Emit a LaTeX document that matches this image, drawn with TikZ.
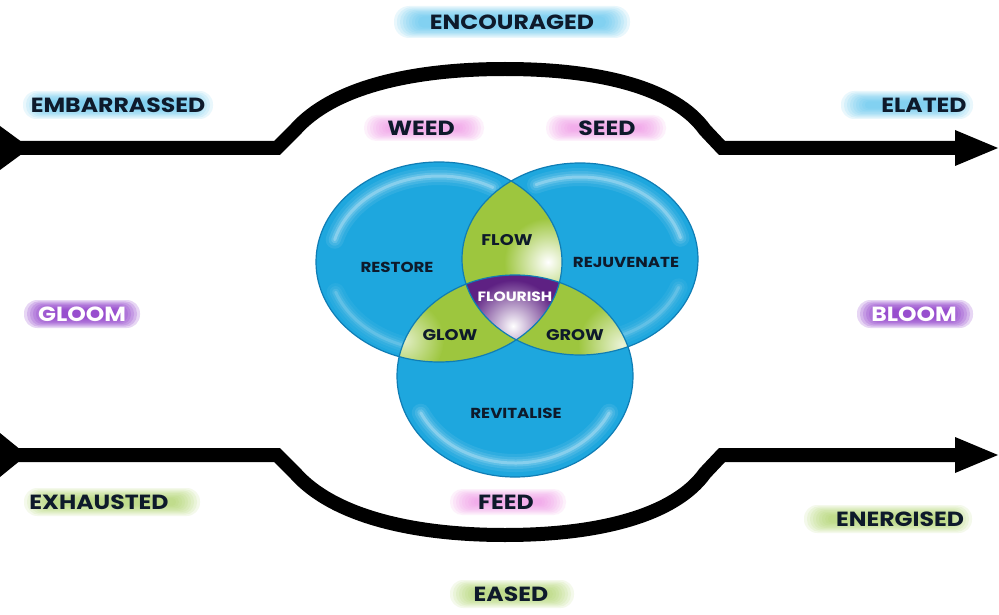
\documentclass[tikz,border=0pt]{standalone}
\usepackage{fontspec}
\setmainfont{Poppins}[FakeStretch=1.15]
\definecolor{vblue}{HTML}{1EA7DE}
\definecolor{vblueD}{HTML}{0F7DB5}
\definecolor{vgreen}{HTML}{9DC63E}
\definecolor{vpurple}{HTML}{5E2183}
\definecolor{ink}{HTML}{0E1A2B}
\definecolor{gblue}{HTML}{4EC0EE}
\definecolor{gpink}{HTML}{F08DE6}
\definecolor{gpurple}{HTML}{8A35C9}
\definecolor{ggreen}{HTML}{A8D05C}
\newcommand\glowat[6]{%
  \foreach \k in {0,...,8}{%
    \pgfmathsetmacro\gx{#3-\k*3}%
    \pgfmathsetmacro\gy{#4-\k*1.3}%
    \pgfmathsetmacro\gr{0.95*\gy}%
    \fill[#5,opacity=#6,rounded corners=\gr pt] ({#1-\gx},{#2-\gy}) rectangle ({#1+\gx},{#2+\gy});
  }}
\tikzset{
  lbl/.style={font=\bfseries\fontsize{20.5}{20.5}\selectfont,text=ink,inner sep=0pt},
  wlbl/.style={lbl,text=white},
  vlbl/.style={font=\bfseries\fontsize{14.5}{14.5}\selectfont,text=ink,inner sep=0pt},
  vlblb/.style={font=\bfseries\fontsize{15.5}{15.5}\selectfont,text=ink,inner sep=0pt},
  flow/.style={line width=14pt,black},
  hl/.style={white,line cap=round}
}
\begin{document}
\begin{tikzpicture}[x=1pt,y=-1pt]
\fill[white] (0,0) rectangle (999,615);
\useasboundingbox (0,0) rectangle (999,615);

% ---- flow lines ----
\draw[flow] (0,148) -- (277,148) -- (295,130) .. controls (332,88) and (410,69) .. (505,69)
  .. controls (600,69) and (675,88) .. (705,130) -- (722,148) -- (958,148);
\draw[flow] (0,455) -- (277,455) -- (295,473) .. controls (332,515) and (410,535) .. (505,535)
  .. controls (600,535) and (675,515) .. (705,473) -- (722,455) -- (958,455);
\fill (0,126) -- (30,148) -- (0,170) -- cycle;
\fill (0,433) -- (27,455) -- (0,477) -- cycle;
\fill (955,130) -- (998,148) -- (955,166) -- cycle;
\fill (955,437) -- (998,455) -- (955,473) -- cycle;

% ---- venn: blue discs ----
\fill[vblue] (439,262) ellipse [x radius=123, y radius=100];
\fill[vblue] (580,259) ellipse [x radius=118, y radius=96];
\fill[vblue] (515,376) ellipse [x radius=118, y radius=101];
% glossy rims
\foreach \w/\o in {18/0.08,12/0.10,7/0.15,3/0.25}{
  \draw[hl,line width=\w pt,opacity=\o] ([shift={(195:108 and 86)}]439,262) arc[start angle=195,end angle=300,x radius=108,y radius=86];
  \draw[hl,line width=\w pt,opacity=\o] ([shift={(245:104 and 82)}]580,259) arc[start angle=245,end angle=345,x radius=104,y radius=82];
  \draw[hl,line width=\w pt,opacity=\o] ([shift={(25:104 and 87)}]515,376) arc[start angle=25,end angle=155,x radius=104,y radius=87];
  \draw[hl,line width=\w pt,opacity=0.6*\o] ([shift={(110:110 and 88)}]439,262) arc[start angle=110,end angle=160,x radius=110,y radius=88];
  \draw[hl,line width=\w pt,opacity=0.6*\o] ([shift={(20:105 and 83)}]580,259) arc[start angle=20,end angle=70,x radius=105,y radius=83];
}
% green lenses
\begin{scope}
  \clip (439,262) ellipse [x radius=123, y radius=100];
  \fill[vgreen] (580,259) ellipse [x radius=118, y radius=96];
\end{scope}
\begin{scope}
  \clip (439,262) ellipse [x radius=123, y radius=100];
  \fill[vgreen] (515,376) ellipse [x radius=118, y radius=101];
\end{scope}
\begin{scope}
  \clip (580,259) ellipse [x radius=118, y radius=96];
  \fill[vgreen] (515,376) ellipse [x radius=118, y radius=101];
\end{scope}
% lens highlights
\begin{scope}
  \clip (439,262) ellipse [x radius=123, y radius=100];
  \clip (580,259) ellipse [x radius=118, y radius=96];
  \shade[inner color=white,outer color=vgreen] (548,262) circle (44);
\end{scope}
\begin{scope}
  \clip (439,262) ellipse [x radius=123, y radius=100];
  \clip (515,376) ellipse [x radius=118, y radius=101];
  \shade[inner color=white!70!vgreen,outer color=vgreen] (404,340) circle (40);
\end{scope}
\begin{scope}
  \clip (580,259) ellipse [x radius=118, y radius=96];
  \clip (515,376) ellipse [x radius=118, y radius=101];
  \shade[inner color=white!80!vgreen,outer color=vgreen] (622,345) circle (44);
\end{scope}
% purple centre
\begin{scope}
  \clip (439,262) ellipse [x radius=123, y radius=100];
  \clip (580,259) ellipse [x radius=118, y radius=96];
  \clip (515,376) ellipse [x radius=118, y radius=101];
  \fill[vpurple] (515,376) ellipse [x radius=118, y radius=101];
  \shade[inner color=white,outer color=vpurple] (513,326) circle (46);
\end{scope}
% outlines
\draw[vblueD,line width=1.2pt] (439,262) ellipse [x radius=123, y radius=100];
\draw[vblueD,line width=1.2pt] (580,259) ellipse [x radius=118, y radius=96];
\draw[vblueD,line width=1.2pt] (515,376) ellipse [x radius=118, y radius=101];

% venn labels
\node[vlblb] (flow) at (507,240) {FLOW};
\node[vlbl] (restore) at (397,267) {RESTORE};
\node[vlbl] (rejuv) at (626,262) {REJUVENATE};
\node[vlbl,text=white,font=\bfseries\fontsize{13.5}{13.5}\selectfont] (flourish) at (515,297) {FLOURISH};
\node[vlblb] (glow) at (450,335) {GLOW};
\node[vlblb] (grow) at (575,335) {GROW};
\node[vlbl] (revit) at (516,413) {REVITALISE};

% ---- outer labels with glows ----
\glowat{512}{22}{118}{16}{gblue}{0.12}
\glowat{118}{105}{95}{14}{gblue}{0.12}
\glowat{907}{105}{66}{14}{gblue}{0.12}
\glowat{424}{128}{60}{13}{gpink}{0.12}
\glowat{606}{128}{60}{13}{gpink}{0.12}
\glowat{82}{314}{58}{14}{gpurple}{0.2}
\glowat{915}{314}{58}{14}{gpurple}{0.2}
\glowat{112}{502}{88}{14}{ggreen}{0.12}
\glowat{508}{502}{58}{13}{gpink}{0.12}
\glowat{888}{519}{84}{14}{ggreen}{0.12}
\glowat{512}{594}{62}{14}{ggreen}{0.12}

\node[lbl] (enc) at (512,22) {ENCOURAGED};
\node[lbl] (emb) at (118,105) {EMBARRASSED};
\node[lbl] (ela) at (924,105) {ELATED};
\node[lbl] (weed) at (421,128) {WEED};
\node[lbl] (seed) at (607,128) {SEED};
\node[wlbl] (gloom) at (82,314) {GLOOM};
\node[wlbl] (bloom) at (914,314) {BLOOM};
\node[lbl] (exh) at (99,502) {EXHAUSTED};
\node[lbl] (feed) at (506,502) {FEED};
\node[lbl] (ener) at (900,519) {ENERGISED};
\node[lbl] (eased) at (511,594) {EASED};
\end{tikzpicture}
\end{document}
